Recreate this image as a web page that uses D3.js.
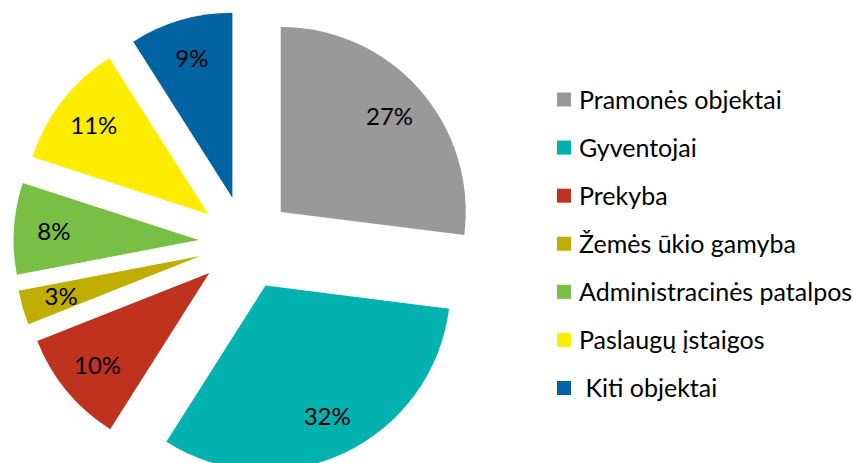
<!DOCTYPE html>
<html>
<head>
<meta charset="utf-8">
<script src="https://cdn.jsdelivr.net/npm/d3@7"></script>
<style>
  body { margin: 0; background: #fff; }
  text { font-family: Lato, "Noto Sans", sans-serif; fill: #000; }
</style>
</head>
<body>
<svg id="chart" width="853" height="463"></svg>
<script>
// slice data, clockwise from 12 o'clock
var categories = ["Pramonės objektai", "Gyventojai", "Prekyba", "Žemės ūkio gamyba",
                  "Administracinės patalpos", "Paslaugų įstaigos", "Kiti objektai"];
var shares = [27, 32, 10, 3, 8, 11, 9];
var sliceColors = ["#999999", "#02B2AF", "#BF321D", "#BFAE00", "#78BF45", "#FFED00", "#0064A3"];
var legendLabels = ["Pramonės objektai", "Gyventojai", "Prekyba", "Žemės ūkio gamyba",
                    "Administracinės patalpos", "Paslaugų įstaigos", "\u00a0Kiti objektai"];

var cx = 245.5, cy = 243;
var radius = 185;
var explode = 47;
var labelDist = 192;

var svg = d3.select('#chart');

var pie = d3.pie().sort(null).value(d => d.value);
var arcs = pie(categories.map((c, i) => ({ name: c, value: shares[i], color: sliceColors[i] })));

var arc = d3.arc().innerRadius(0).outerRadius(radius);

function dir(d) {
    var a = (d.startAngle + d.endAngle) / 2;
    return [Math.sin(a), -Math.cos(a)];
}

var g = svg.append('g')
    .attr('transform', 'translate(' + cx + ', ' + cy + ')');

g.selectAll('.slice')
    .data(arcs)
    .enter()
    .append('path')
    .attr('class', 'slice')
    .attr('d', arc)
    .attr('transform', d => {
        var v = dir(d);
        return 'translate(' + (v[0] * explode) + ', ' + (v[1] * explode) + ')';
    })
    .style('fill', d => d.data.color);

g.selectAll('.pct')
    .data(arcs)
    .enter()
    .append('text')
    .attr('class', 'pct')
    .attr('x', d => dir(d)[0] * labelDist)
    .attr('y', d => dir(d)[1] * labelDist)
    .attr('text-anchor', 'middle')
    .attr('dy', '0.36em')
    .style('font-size', '24px')
    .text(d => d.data.value + '%');

// legend
var legendY = d3.scalePoint().domain(d3.range(categories.length)).range([99.5, 388]);

var legend = svg.append('g');
var items = legend.selectAll('.item')
    .data(categories)
    .enter()
    .append('g')
    .attr('class', 'item')
    .attr('transform', (d, i) => 'translate(557, ' + legendY(i) + ')');

items.append('rect')
    .attr('x', 0)
    .attr('y', -7)
    .attr('width', 14)
    .attr('height', 14)
    .style('fill', (d, i) => sliceColors[i]);

items.append('text')
    .attr('x', 22)
    .attr('y', 0)
    .attr('dy', '0.36em')
    .style('font-size', '25px')
    .text((d, i) => legendLabels[i]);
</script>
</body>
</html>
